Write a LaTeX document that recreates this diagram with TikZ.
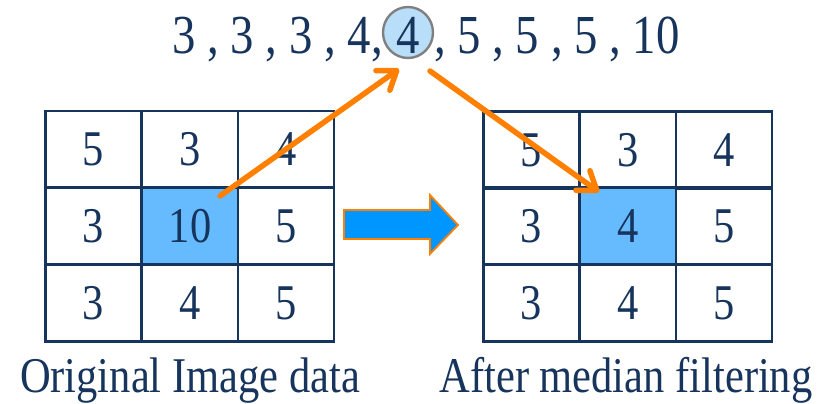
\documentclass[tikz,border=0pt]{standalone}
\usepackage{fontspec}
\setmainfont{Liberation Serif}[FakeStretch=0.85]
\usetikzlibrary{arrows.meta,shapes.geometric}
\definecolor{navy}{RGB}{23,52,92}
\definecolor{cellblue}{RGB}{102,187,255}
\definecolor{circblue}{RGB}{184,222,250}
\definecolor{arrorange}{RGB}{255,128,0}
\definecolor{bigblue}{RGB}{0,150,255}
\tikzset{
  cell/.style={draw=navy, line width=2.8pt, minimum width=96pt, minimum height=77pt, inner sep=0pt, text=navy, font=\fontsize{50}{50}\selectfont},
  hcell/.style={cell, fill=cellblue},
  seq/.style={text=navy, inner sep=0pt, font=\fontsize{55}{55}\selectfont},
  lbl/.style={text=navy, inner sep=0pt, font=\fontsize{50}{50}\selectfont},
  oarrow/.style={draw=arrorange, line width=5.5pt, line cap=round, -{Straight Barb[length=17pt,width=24pt,line cap=round,line join=round]}},
}
\begin{document}
\begin{tikzpicture}[x=1pt,y=-1pt]
\useasboundingbox (0,0) rectangle (830,404);
% top sequence
\node[ellipse, draw=gray, line width=2.4pt, fill=circblue, minimum width=50pt, minimum height=51pt, inner sep=0pt] (med) at (408,32.5) {};
\node[seq, anchor=base] (m4) at (408,54) {4};
\node[seq, anchor=base east] (seqL) at (383,54) {3 , 3 , 3 , 4,};
\node[seq, anchor=base west] (seqR) at (434,54) {, 5 , 5 , 5 , 10};
% left grid
\foreach \r/\y in {1/149.5,2/226,3/303}{
  \foreach \c/\x in {1/93.5,2/190,3/286}{
    \coordinate (L\r\c) at (\x,\y);
  }
}
\node[cell] (a11) at (L11) {5};
\node[cell] (a12) at (L12) {3};
\node[cell] (a13) at (L13) {4};
\node[cell] (a21) at (L21) {3};
\node[hcell] (a22) at (L22) {10};
\node[cell] (a23) at (L23) {5};
\node[cell] (a31) at (L31) {3};
\node[cell] (a32) at (L32) {4};
\node[cell] (a33) at (L33) {5};
% right grid
\foreach \r/\y in {1/150,2/226,3/303}{
  \foreach \c/\x in {1/531.5,2/628,3/724}{
    \coordinate (R\r\c) at (\x,\y);
  }
}
\node[cell] (b11) at (R11) {5};
\node[cell] (b12) at (R12) {3};
\node[cell] (b13) at (R13) {4};
\node[cell] (b21) at (R21) {3};
\node[hcell] (b22) at (R22) {4};
\node[cell] (b23) at (R23) {5};
\node[cell] (b31) at (R31) {3};
\node[cell] (b32) at (R32) {4};
\node[cell] (b33) at (R33) {5};
% big arrow
\draw[draw=arrorange, line width=1.8pt, fill=bigblue, line join=miter]
  (344,210) -- (430,210) -- (430,195) -- (458,225) -- (430,254) -- (430,239) -- (344,239) -- cycle;
% orange arrows
\coordinate (s1) at (220,196);
\coordinate (t1) at (399,69);
\coordinate (s2) at (430,71);
\coordinate (t2) at (599,192);
\draw[oarrow] (s1) -- (t1);
\draw[oarrow] (s2) -- (t2);
% labels
\node[lbl, anchor=base] (lblL) at (190,392) {Original Image data};
\node[lbl, anchor=base] (lblR) at (626,392) {After median filtering};
\end{tikzpicture}
\end{document}
